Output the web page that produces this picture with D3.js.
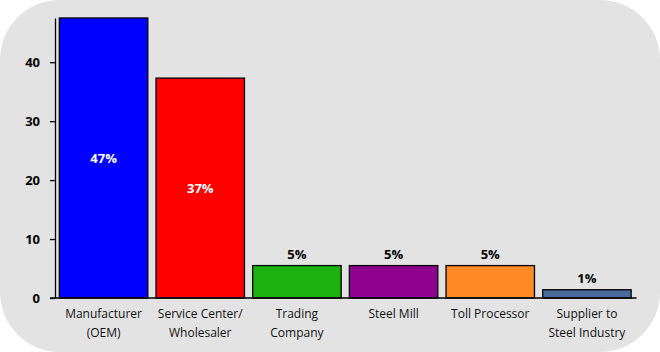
<!DOCTYPE html>
<html>
<head>
<meta charset="utf-8">
<script src="https://cdn.jsdelivr.net/npm/d3@7"></script>
<style>
  body { margin: 0; background: #fff; }
  text { font-family: "Open Sans", "Liberation Sans", sans-serif; }
</style>
</head>
<body>
<svg id="chart"></svg>
<script>
// data
const categories = ["Manufacturer\n(OEM)", "Service Center/\nWholesaler", "Trading\nCompany", "Steel Mill", "Toll Processor", "Supplier to\nSteel Industry"];
const values = [47.5, 37.3, 5.5, 5.5, 5.5, 1.4];
const labels = ["47%", "37%", "5%", "5%", "5%", "1%"];
const colors = ["#0000ff", "#ff0000", "#1db20f", "#8e008e", "#fe8a25", "#4b6b9b"];
const yTicks = [0, 10, 20, 30, 40];

const width = 660, height = 352;
const margin = { top: 18, right: 24.5, bottom: 54, left: 55 };
const innerW = width - margin.left - margin.right;
const innerH = height - margin.top - margin.bottom;

const svg = d3.select("#chart").attr("width", width).attr("height", height);

// rounded background
svg.append("rect")
  .attr("x", 0).attr("y", 0)
  .attr("width", width).attr("height", height)
  .attr("rx", 60).attr("ry", 60)
  .attr("fill", "#e3e3e3");

const g = svg.append("g").attr("transform", `translate(${margin.left},${margin.top})`);

const x = d3.scaleBand().domain(d3.range(categories.length)).range([0, innerW]).paddingInner(0.085).paddingOuter(0.045);
const y = d3.scaleLinear().domain([0, 47.5]).range([innerH, 0]);

// bars
g.selectAll(".bar")
  .data(values)
  .enter().append("rect")
  .attr("class", "bar")
  .attr("x", (d, i) => x(i))
  .attr("y", d => y(d))
  .attr("width", x.bandwidth())
  .attr("height", d => innerH - y(d))
  .attr("fill", (d, i) => colors[i])
  .attr("stroke", "#000")
  .attr("stroke-width", 1.3);

// y axis
const yAxis = g.append("g")
  .call(d3.axisLeft(y).tickValues(yTicks).tickSize(5).tickSizeOuter(0).tickPadding(10));
yAxis.select(".domain").attr("stroke", "#000").attr("stroke-width", 1.3);
yAxis.selectAll(".tick line").attr("stroke", "#000").attr("stroke-width", 1.3);
yAxis.selectAll(".tick text").style("font-size", "13px").style("font-weight", "bold").attr("fill", "#000");

// baseline
g.append("line")
  .attr("x1", -5).attr("x2", innerW + 1)
  .attr("y1", innerH).attr("y2", innerH)
  .attr("stroke", "#000").attr("stroke-width", 1.3);

// category labels
categories.forEach((c, i) => {
  const t = g.append("text")
    .attr("x", x(i) + x.bandwidth() / 2)
    .attr("y", innerH + 20)
    .attr("text-anchor", "middle")
    .style("font-size", "12px")
    .attr("fill", "#111");
  c.split("\n").forEach((line, j) => {
    t.append("tspan").attr("x", x(i) + x.bandwidth() / 2).attr("dy", j === 0 ? 0 : 19).text(line);
  });
});

// value labels
g.selectAll(".label")
  .data(values)
  .enter().append("text")
  .attr("class", "label")
  .attr("x", (d, i) => x(i) + x.bandwidth() / 2)
  .attr("y", d => d > 20 ? (y(d) + innerH) / 2 + 5 : y(d) - 7)
  .attr("text-anchor", "middle")
  .style("font-size", "13px")
  .style("font-weight", "bold")
  .attr("fill", d => d > 20 ? "#fff" : "#000")
  .text((d, i) => labels[i]);
</script>
</body>
</html>
